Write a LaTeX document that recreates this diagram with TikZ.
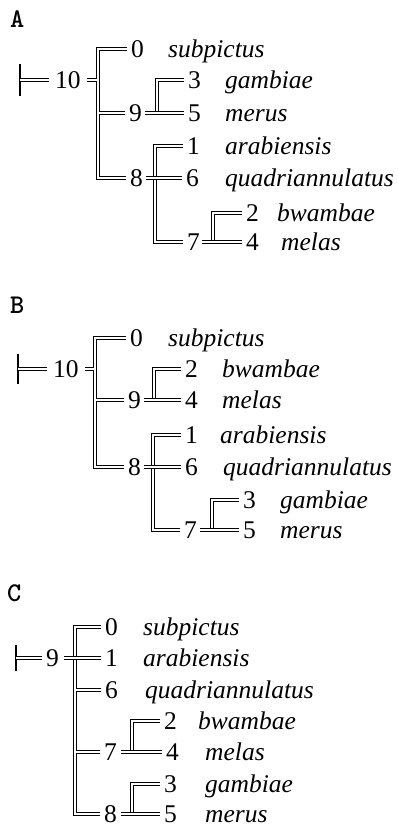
\documentclass[tikz,border=0pt]{standalone}
\usepackage{fontspec}
\setmainfont{Liberation Serif}
\usetikzlibrary{calc}
\tikzset{
  dl/.style={draw, double, line width=1.35pt, double distance=1.5pt},
  tick/.style={draw, line width=1.8pt},
  num/.style={anchor=west, inner sep=0pt, font=\fontsize{25.5}{30}\selectfont},
  sp/.style={anchor=base west, inner sep=0pt, font=\fontsize{25.5}{30}\selectfont\itshape},
  plabel/.style={anchor=base west, inner sep=0pt, font=\fontsize{27}{30}\selectfont\ttfamily\bfseries}
}
\begin{document}
\begin{tikzpicture}[x=1pt,y=-1pt]
\useasboundingbox (0,0) rectangle (398,828);
%%%%%%%%%%%%%%%%%%%% Panel A
\node[plabel] (pA) at (10,27) {A};
\coordinate (aroot) at (20,80);
\node[num] (a10) at (55,80) {10};
\node[num] (a0) at (131,49) {0};
\node[num] (a9) at (129,113) {9};
\node[num] (a3) at (188,80) {3};
\node[num] (a5) at (188,113) {5};
\node[num] (a8) at (130,178) {8};
\node[num] (a1) at (187,146) {1};
\node[num] (a6) at (186,178) {6};
\node[num] (a7) at (187,242) {7};
\node[num] (a2) at (246,213) {2};
\node[num] (a4) at (246,242) {4};
\node[sp] (sa0) at (168,57.5) {subpictus};
\node[sp] (sa3) at (225,88.5) {gambiae};
\node[sp] (sa5) at (225,121.5) {merus};
\node[sp] (sa1) at (225,154.5) {arabiensis};
\node[sp] (sa6) at (225,186.5) {quadriannulatus};
\node[sp] (sa2) at (277,221.5) {bwambae};
\node[sp] (sa4) at (281,250.5) {melas};
\coordinate (aB10) at (98,80);
\coordinate (aB9) at (157,113);
\coordinate (aB8) at (155,178);
\coordinate (aB7) at (213,242);
% root
\draw[tick] ([yshift=16pt]aroot) -- ([yshift=-16pt]aroot);
\draw[dl] (aroot) -- ([xshift=-6pt]a10.west);
% brackets
\draw[dl] ([xshift=-4pt]a0.west) -| (aB10) |- ([xshift=-4pt]a8.west);
\draw[dl] ([xshift=-4pt]a3.west) -| (aB9) -- ([xshift=-4pt]a5.west);
\draw[dl] ([xshift=-4pt]a1.west) -| (aB8) |- ([xshift=-4pt]a7.west);
\draw[dl] ([xshift=-4pt]a2.west) -| (aB7) -- ([xshift=-4pt]a4.west);
% stubs and middle branches
\draw[dl] ([xshift=6pt]a10.east) -- ([xshift=-0.75pt]aB10);
\draw[dl] ($(aB10 |- a9.west)+(0.75pt,0)$) -- ([xshift=-4pt]a9.west);
\draw[dl] ([xshift=3pt]a9.east) -- ([xshift=0.75pt]aB9);
\draw[dl] ([xshift=3pt]a8.east) -- ([xshift=-4pt]a6.west);
\draw[dl] ([xshift=2pt]a7.east) -- ([xshift=0.75pt]aB7);
%%%%%%%%%%%%%%%%%%%% Panel B
\node[plabel] (pB) at (10,313) {B};
\coordinate (broot) at (18,369);
\node[num] (b10) at (53,369) {10};
\node[num] (b0) at (130,338) {0};
\node[num] (b9) at (128,400) {9};
\node[num] (b2) at (185,369) {2};
\node[num] (b4) at (185,400) {4};
\node[num] (b8) at (128,467) {8};
\node[num] (b1) at (185,435) {1};
\node[num] (b6) at (185,467) {6};
\node[num] (b7) at (184,530) {7};
\node[num] (b3) at (243,500) {3};
\node[num] (b5) at (243,530) {5};
\node[sp] (sb0) at (168,346.5) {subpictus};
\node[sp] (sb2) at (222,377.5) {bwambae};
\node[sp] (sb4) at (222,408.5) {melas};
\node[sp] (sb1) at (220,443.5) {arabiensis};
\node[sp] (sb6) at (223,475.5) {quadriannulatus};
\node[sp] (sb3) at (280,508.5) {gambiae};
\node[sp] (sb5) at (280,538.5) {merus};
\coordinate (bB10) at (95,369);
\coordinate (bB9) at (154,400);
\coordinate (bB8) at (153,467);
\coordinate (bB7) at (212,530);
\draw[tick] ([yshift=15pt]broot) -- ([yshift=-15pt]broot);
\draw[dl] (broot) -- ([xshift=-6pt]b10.west);
\draw[dl] ([xshift=-4pt]b0.west) -| (bB10) |- ([xshift=-4pt]b8.west);
\draw[dl] ([xshift=-4pt]b2.west) -| (bB9) -- ([xshift=-4pt]b4.west);
\draw[dl] ([xshift=-4pt]b1.west) -| (bB8) |- ([xshift=-4pt]b7.west);
\draw[dl] ([xshift=-4pt]b3.west) -| (bB7) -- ([xshift=-4pt]b5.west);
\draw[dl] ([xshift=6pt]b10.east) -- ([xshift=-0.75pt]bB10);
\draw[dl] ($(bB10 |- b9.west)+(0.75pt,0)$) -- ([xshift=-4pt]b9.west);
\draw[dl] ([xshift=3pt]b9.east) -- ([xshift=0.75pt]bB9);
\draw[dl] ([xshift=3pt]b8.east) -- ([xshift=-4pt]b6.west);
\draw[dl] ([xshift=3pt]b7.east) -- ([xshift=0.75pt]bB7);
%%%%%%%%%%%%%%%%%%%% Panel C
\node[plabel] (pC) at (7,601) {C};
\coordinate (croot) at (16,658);
\node[num] (c9) at (46,658) {9};
\node[num] (c0) at (105,627) {0};
\node[num] (c1) at (105,658) {1};
\node[num] (c6) at (105,690) {6};
\node[num] (c7) at (104,752) {7};
\node[num] (c2) at (164,721) {2};
\node[num] (c4) at (166,752) {4};
\node[num] (c8) at (104,814) {8};
\node[num] (c3) at (164,784) {3};
\node[num] (c5) at (164,814) {5};
\node[sp] (sc0) at (143,635.5) {subpictus};
\node[sp] (sc1) at (143,666.5) {arabiensis};
\node[sp] (sc6) at (145,698.5) {quadriannulatus};
\node[sp] (sc2) at (198,729.5) {bwambae};
\node[sp] (sc4) at (205,760.5) {melas};
\node[sp] (sc3) at (205,792.5) {gambiae};
\node[sp] (sc5) at (205,822.5) {merus};
\coordinate (cB9) at (75,658);
\coordinate (cB7) at (132,752);
\coordinate (cB8) at (132,814);
\draw[tick] ([yshift=13pt]croot) -- ([yshift=-13pt]croot);
\draw[dl] (croot) -- ([xshift=-4pt]c9.west);
\draw[dl] ([xshift=-4pt]c0.west) -| (cB9) |- ([xshift=-4pt]c8.west);
\draw[dl] ([xshift=-4pt]c2.west) -| (cB7) -- ([xshift=-4pt]c4.west);
\draw[dl] ([xshift=-4pt]c3.west) -| (cB8) -- ([xshift=-4pt]c5.west);
\draw[dl] ([xshift=5pt]c9.east) -- ([xshift=-4pt]c1.west);
\draw[dl] ($(cB9 |- c6.west)+(0.75pt,0)$) -- ([xshift=-4pt]c6.west);
\draw[dl] ($(cB9 |- c7.west)+(0.75pt,0)$) -- ([xshift=-4pt]c7.west);
\draw[dl] ([xshift=4pt]c7.east) -- ([xshift=0.75pt]cB7);
\draw[dl] ([xshift=4pt]c8.east) -- ([xshift=0.75pt]cB8);
\end{tikzpicture}
\end{document}
